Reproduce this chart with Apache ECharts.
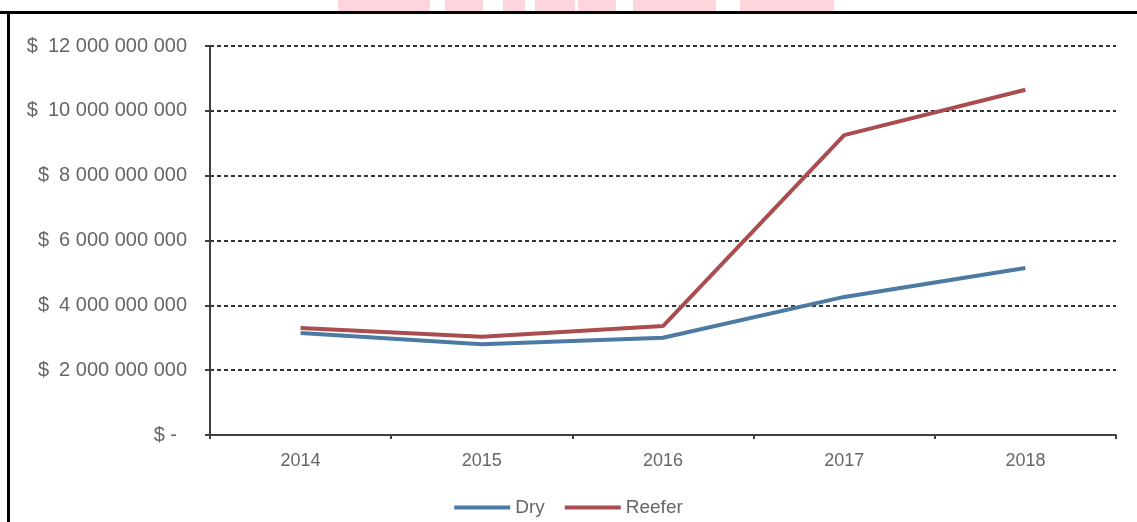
<!DOCTYPE html>
<html>
<head>
<meta charset="utf-8">
<style>
  html, body { margin: 0; padding: 0; background: #fff; }
  #chart-container { width: 1137px; height: 522px; }
</style>
</head>
<body>
<div id="chart-container"></div>
<script src="https://fastly.jsdelivr.net/npm/echarts@6.0.0/dist/echarts.min.js"></script>
<script>
// years on the x axis
var years = ['2014', '2015', '2016', '2017', '2018'];
// values (USD)
var dryValues = [3150000000, 2800000000, 3000000000, 4260000000, 5150000000];
var reeferValues = [3300000000, 3030000000, 3360000000, 9250000000, 10650000000];
var seriesNames = ['Dry', 'Reefer'];
var seriesColors = ['#4d7aa3', '#aa4d50'];

// pink watermark pieces peeking in above the frame
var watermarkPieces = [[338, 92], [445, 38], [503, 22], [535, 40], [578, 38], [633, 83], [740, 94]];

function moneyLabel(v) {
    if (v === 0) return '$ -\u2002';
    // group digits with spaces, like the excel accounting format
    var s = String(Math.round(v)).replace(/\B(?=(\d{3})+(?!\d))/g, ' ');
    return '$\u2002' + s;
}

var dom = document.getElementById('chart-container');
var myChart = echarts.init(dom, null, { renderer: 'canvas' });

var graphics = watermarkPieces.map(function (p) {
    return {
        type: 'rect',
        shape: { x: p[0], y: 0, width: p[1], height: 11 },
        style: { fill: '#fdd5dc' },
        silent: true
    };
});
// black frame, top and left edge
graphics.push({
    type: 'rect',
    shape: { x: 0, y: 11, width: 1137, height: 3 },
    style: { fill: '#000' },
    silent: true
});
graphics.push({
    type: 'rect',
    shape: { x: 7, y: 11, width: 3, height: 511 },
    style: { fill: '#000' },
    silent: true
});

var option = {
    animation: false,
    textStyle: { fontFamily: 'Liberation Sans, Arial, sans-serif' },
    graphic: graphics,
    grid: { left: 210, right: 21, top: 46, bottom: 87 },
    legend: {
        bottom: 0,
        left: 'center',
        data: seriesNames,
        icon: 'rect',
        itemWidth: 56,
        itemHeight: 4,
        itemGap: 20,
        textStyle: { color: '#666', fontSize: 19 }
    },
    xAxis: {
        type: 'category',
        data: years,
        boundaryGap: true,
        axisLine: { lineStyle: { color: '#3f3f3f', width: 2 } },
        axisTick: { show: true, length: 4, lineStyle: { color: '#3f3f3f', width: 2 } },
        axisLabel: { color: '#666', fontSize: 18, margin: 17 }
    },
    yAxis: {
        type: 'value',
        min: 0,
        max: 12000000000,
        interval: 2000000000,
        axisLine: { show: true, lineStyle: { color: '#3f3f3f', width: 2 } },
        axisTick: { show: true, length: 5, lineStyle: { color: '#3f3f3f', width: 2 } },
        axisLabel: { color: '#666', fontSize: 20, margin: 23, formatter: moneyLabel },
        splitLine: {
            show: true,
            lineStyle: { color: '#333', width: 2, type: [4, 3] }
        }
    },
    series: [
        {
            name: seriesNames[0],
            type: 'line',
            data: dryValues,
            showSymbol: false,
            symbol: 'none',
            itemStyle: { color: seriesColors[0] },
            lineStyle: { color: seriesColors[0], width: 4 },
            z: 3
        },
        {
            name: seriesNames[1],
            type: 'line',
            data: reeferValues,
            showSymbol: false,
            symbol: 'none',
            itemStyle: { color: seriesColors[1] },
            lineStyle: { color: seriesColors[1], width: 4 },
            z: 2
        }
    ]
};

myChart.setOption(option);
window.addEventListener('resize', myChart.resize);
</script>
</body>
</html>
